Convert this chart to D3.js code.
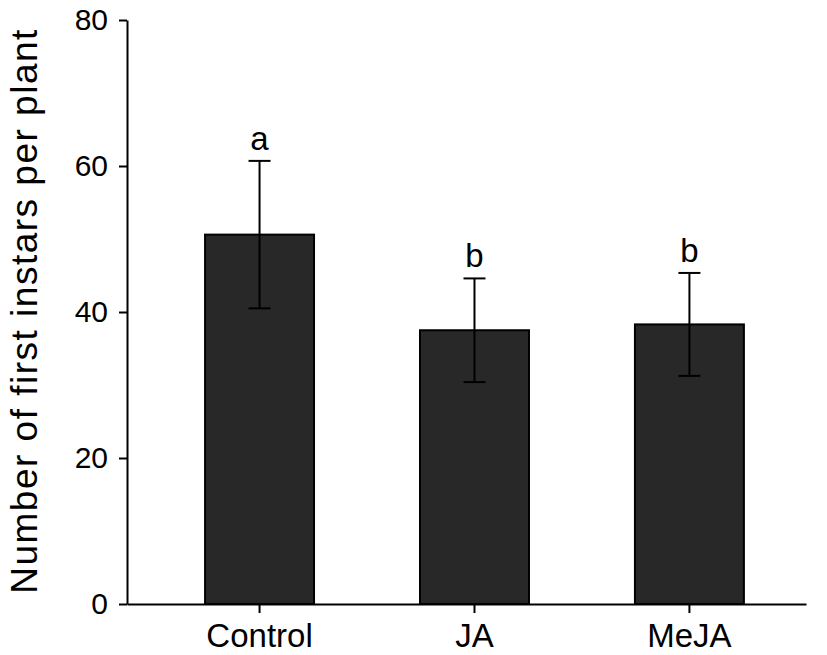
<!DOCTYPE html>
<html>
<head>
<meta charset="utf-8">
<script src="https://cdn.jsdelivr.net/npm/d3@7"></script>
<style>
  body { margin: 0; background: #fff; }
  text { font-family: "Liberation Sans", Arial, sans-serif; fill: #000; }
</style>
</head>
<body>
<svg width="827" height="655"></svg>
<script>
const svg = d3.select('svg');

const treatments = ['Control', 'JA', 'MeJA'];
const means = [50.6, 37.5, 38.3];
const errors = [10.1, 7.1, 7.05];
const letters = ['a', 'b', 'b'];
const yTicks = [0, 20, 40, 60, 80];

const data = treatments.map((t, i) => ({ t, mean: means[i], err: errors[i], letter: letters[i] }));

const margin = { top: 20, left: 127, right: 21, bottom: 51 };
const innerWidth = 827 - margin.left - margin.right;
const innerHeight = 655 - margin.top - margin.bottom;

const g = svg.append('g')
  .attr('transform', `translate(${margin.left},${margin.top})`);

const xScale = d3.scaleBand()
  .domain(treatments)
  .range([0, innerWidth])
  .paddingInner(0.493)
  .paddingOuter(0.326)
  .align(0.557);

const yScale = d3.scaleLinear()
  .domain([0, 80])
  .range([innerHeight, 0]);

// bars
g.selectAll('rect.bar').data(data)
  .enter().append('rect')
    .attr('class', 'bar')
    .attr('x', d => xScale(d.t))
    .attr('y', d => yScale(d.mean))
    .attr('width', xScale.bandwidth())
    .attr('height', d => yScale(0) - yScale(d.mean))
    .attr('fill', '#282828')
    .attr('stroke', '#000')
    .attr('stroke-width', 2);

// error bars
const cx = d => xScale(d.t) + xScale.bandwidth() / 2;
const capW = 11;
const eb = g.selectAll('g.err').data(data).enter().append('g').attr('class', 'err')
  .attr('stroke', '#000').attr('stroke-width', 2);
eb.append('line')
  .attr('x1', cx).attr('x2', cx)
  .attr('y1', d => yScale(d.mean + d.err))
  .attr('y2', d => yScale(d.mean - d.err));
eb.append('line')
  .attr('x1', d => cx(d) - capW).attr('x2', d => cx(d) + capW)
  .attr('y1', d => yScale(d.mean + d.err)).attr('y2', d => yScale(d.mean + d.err));
eb.append('line')
  .attr('x1', d => cx(d) - capW).attr('x2', d => cx(d) + capW)
  .attr('y1', d => yScale(d.mean - d.err)).attr('y2', d => yScale(d.mean - d.err));

// significance letters
g.selectAll('text.letter').data(data)
  .enter().append('text')
    .attr('class', 'letter')
    .attr('x', cx)
    .attr('y', d => yScale(d.mean + d.err) - 11)
    .attr('text-anchor', 'middle')
    .attr('font-size', 33)
    .text(d => d.letter);

// axes
const yAxis = d3.axisLeft(yScale)
  .tickValues(yTicks)
  .tickSize(8)
  .tickPadding(11)
  .tickSizeOuter(0);

const yG = g.append('g').call(yAxis);
yG.attr('font-family', null);
yG.selectAll('path, line').attr('stroke', '#000').attr('stroke-width', 2);
yG.selectAll('text').attr('font-size', 30).attr('fill', '#000');

const xAxis = d3.axisBottom(xScale)
  .tickSize(9)
  .tickPadding(11)
  .tickSizeOuter(0);

const xG = g.append('g')
  .attr('transform', `translate(0,${innerHeight})`)
  .call(xAxis);
xG.attr('font-family', null);
xG.selectAll('path, line').attr('stroke', '#000').attr('stroke-width', 2);
xG.selectAll('text').attr('font-size', 33).attr('fill', '#000');

// y title
svg.append('text')
  .attr('transform', 'translate(37,311) rotate(-90)')
  .attr('text-anchor', 'middle')
  .attr('font-size', 37)
  .attr('letter-spacing', 1.5)
  .text('Number of first instars per plant');
</script>
</body>
</html>
